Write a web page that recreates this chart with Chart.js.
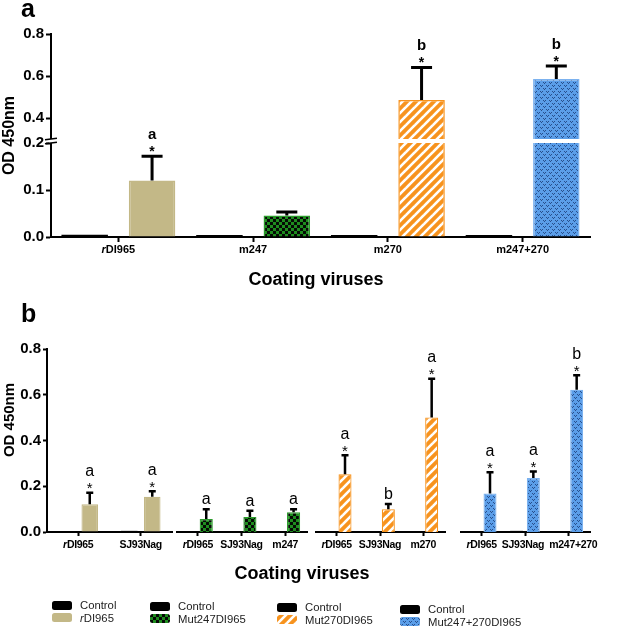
<!DOCTYPE html>
<html><head><meta charset="utf-8">
<script src="https://cdn.jsdelivr.net/npm/chart.js@4.4.1/dist/chart.umd.min.js"></script>
<style>
body{margin:0;width:619px;height:634px;position:relative;background:#fff;overflow:hidden;font-family:'Liberation Sans',Arial,sans-serif;color:#000}
.box{position:absolute}
.t{position:absolute;white-space:nowrap;line-height:1;font-weight:bold}
.leg{position:absolute;display:flex;align-items:center;height:14px;font-size:11.3px;color:#222;white-space:nowrap}
.leg canvas{margin-right:8px}
.rot{position:absolute;width:120px;height:16px;line-height:16px;text-align:center;font-weight:bold;font-size:15px;white-space:nowrap;transform:rotate(-90deg);transform-origin:50% 50%}
</style></head><body>
<div class="box" style="left:0;top:0;width:619px;height:300px"><canvas id="ca"></canvas></div>
<div class="box" style="left:0;top:300px;width:180px;height:300px"><canvas id="cb1"></canvas></div>
<div class="box" style="left:176px;top:300px;width:145px;height:300px"><canvas id="cb2"></canvas></div>
<div class="box" style="left:315px;top:300px;width:145px;height:300px"><canvas id="cb3"></canvas></div>
<div class="box" style="left:460px;top:300px;width:159px;height:300px"><canvas id="cb4"></canvas></div>
<div class="t" style="left:21px;top:-4px;font-size:25px">a</div>
<div class="t" style="left:21px;top:301px;font-size:25px">b</div>
<div class="t" style="left:216px;top:270px;width:200px;text-align:center;font-size:18px">Coating viruses</div>
<div class="t" style="left:202px;top:564px;width:200px;text-align:center;font-size:18px">Coating viruses</div>
<div class="rot" style="left:-51.5px;top:412px">OD 450nm</div>
<div id="legend"></div>
<script>
// ---------- data ----------
const seriesNames = ['Control', 'rDI965', 'Mut247DI965', 'Mut270DI965', 'Mut247+270DI965'];

const catsA = ['rDI965', 'm247', 'm270', 'm247+270'];
const controlA = [0.005, 0.004, 0.004, 0.004];
const valuesA = [0.120, 0.046, 0.486, 0.586];
const errorsA = [0.052, 0.007, 0.155, 0.062];
const lettersA = ['a', '', 'b', 'b'];
const starsA = ['*', '', '*', '*'];
const yTicksA = [0, 0.1, 0.2, 0.4, 0.6, 0.8];

const catsB1 = ['rDI965', 'SJ93Nag'];
const controlB1 = [0, 0.005];
const valuesB1 = [0.121, 0.154];
const errorsB1 = [0.051, 0.024];
const lettersB1 = ['a', 'a'];
const starsB1 = ['*', '*'];

const catsB2 = ['rDI965', 'SJ93Nag', 'm247'];
const controlB2 = [0, 0.004, 0];
const valuesB2 = [0.057, 0.066, 0.086];
const errorsB2 = [0.043, 0.027, 0.013];
const lettersB2 = ['a', 'a', 'a'];
const starsB2 = ['', '', ''];

const catsB3 = ['rDI965', 'SJ93Nag', 'm270'];
const controlB3 = [0, 0.004, 0];
const valuesB3 = [0.252, 0.099, 0.501];
const errorsB3 = [0.083, 0.023, 0.169];
const lettersB3 = ['a', 'b', 'a'];
const starsB3 = ['*', '', '*'];

const catsB4 = ['rDI965', 'SJ93Nag', 'm247+270'];
const controlB4 = [0, 0.005, 0];
const valuesB4 = [0.168, 0.236, 0.622];
const errorsB4 = [0.093, 0.029, 0.063];
const lettersB4 = ['a', 'a', 'b'];
const starsB4 = ['*', '*', '*'];

const yTicksB = [0, 0.2, 0.4, 0.6, 0.8];

// ---------- styles ----------
const FAM = "'Liberation Sans', Arial, sans-serif";
function tile(w, h, draw) { const c = document.createElement('canvas'); c.width = w; c.height = h; draw(c.getContext('2d'), w, h); return c; }
const pctx = document.createElement('canvas').getContext('2d');
const TAN = '#c3b887';
const greenTile = tile(6, 6, (g) => { g.fillStyle = '#1e8c1e'; g.fillRect(0, 0, 6, 6); g.fillStyle = '#050a05'; g.fillRect(0, 0, 3, 3); g.fillRect(3, 3, 3, 3); });
const orangeTile = tile(9, 9, (g) => { g.fillStyle = '#f7931e'; g.fillRect(0, 0, 9, 9); g.strokeStyle = '#fff'; g.lineWidth = 2.6;
  [[-1, 10, 10, -1], [-1, 1, 1, -1], [8, 10, 10, 8]].forEach(l => { g.beginPath(); g.moveTo(l[0], l[1]); g.lineTo(l[2], l[3]); g.stroke(); }); });
const blueTile = tile(6, 6, (g) => { g.fillStyle = '#5b9ee9'; g.fillRect(0, 0, 6, 6); g.fillStyle = '#274f8c';
  g.fillRect(0, 1, 1, 1); g.fillRect(1, 2, 1, 1); g.fillRect(2, 1, 1, 1); g.fillRect(3, 4, 1, 1); g.fillRect(4, 5, 1, 1); g.fillRect(5, 4, 1, 1); });
const GREEN = pctx.createPattern(greenTile, 'repeat');
const ORANGE = pctx.createPattern(orangeTile, 'repeat');
const BLUE = pctx.createPattern(blueTile, 'repeat');
const fills = [TAN, GREEN, ORANGE, BLUE];
const borders = [TAN, '#2b9b2b', '#f7931e', '#7cb2ef'];

// ---------- broken axis scale ----------
const BRK = { low: 0.2, high: 0.3, lowFrac: 94 / 203, gapFrac: 4 / 203 };
class BrokenScale extends Chart.LinearScale {
  buildTicks() { return yTicksA.map(v => ({ value: v })); }
  getPixelForValue(v) {
    const H = this.bottom - this.top, lowH = H * BRK.lowFrac, gapH = H * BRK.gapFrac, upH = H - lowH - gapH;
    const min = this.min, max = this.max;
    if (v <= BRK.low) return this.bottom - (v - min) / (BRK.low - min) * lowH;
    if (v >= BRK.high) return this.bottom - lowH - gapH - (v - BRK.high) / (max - BRK.high) * upH;
    return this.bottom - lowH - (v - BRK.low) / (BRK.high - BRK.low) * gapH;
  }
  getValueForPixel(p) {
    const H = this.bottom - this.top, lowH = H * BRK.lowFrac, gapH = H * BRK.gapFrac, upH = H - lowH - gapH;
    const d = this.bottom - p;
    if (d <= lowH) return this.min + d / lowH * (BRK.low - this.min);
    if (d >= lowH + gapH) return BRK.high + (d - lowH - gapH) / upH * (this.max - BRK.high);
    return BRK.low + (d - lowH) / gapH * (BRK.high - BRK.low);
  }
}
BrokenScale.id = 'broken';
BrokenScale.defaults = {};
Chart.register(BrokenScale);

// ---------- plugins ----------
const errAnno = {
  id: 'errAnno',
  afterDatasetsDraw(chart, args, o) {
    if (!o || !o.errors) return;
    const meta = chart.getDatasetMeta(o.dataset), ys = chart.scales.y, ctx = chart.ctx;
    const data = chart.data.datasets[o.dataset].data;
    ctx.save();
    ctx.strokeStyle = '#000'; ctx.fillStyle = '#000'; ctx.lineWidth = o.lw;
    meta.data.forEach((bar, i) => {
      const v = data[i], e = o.errors[i], x = bar.x;
      const y0 = ys.getPixelForValue(v), y1 = ys.getPixelForValue(v + e);
      ctx.beginPath(); ctx.moveTo(x, y0); ctx.lineTo(x, y1 - o.lw / 2);
      ctx.moveTo(x - o.cap, y1); ctx.lineTo(x + o.cap, y1); ctx.stroke();
      ctx.textAlign = 'center'; ctx.textBaseline = 'alphabetic';
      const star = o.stars[i], letter = o.letters[i];
      if (star) { ctx.font = o.starFont; ctx.fillText(star, x, y1 + o.starDy); }
      if (letter) { ctx.font = o.letterFont; ctx.fillText(letter, x, y1 + (star ? o.letterDy : o.letterDyNoStar)); }
    });
    ctx.restore();
  }
};
const axisBreak = {
  id: 'axisBreak',
  afterDatasetsDraw(chart, args, o) {
    if (!o || !o.enabled) return;
    const ys = chart.scales.y, ca = chart.chartArea, ctx = chart.ctx;
    const yHi = ys.getPixelForValue(BRK.high), yLo = ys.getPixelForValue(BRK.low);
    ctx.save();
    ctx.fillStyle = '#fff';
    ctx.fillRect(ca.left - 2, yHi, ca.right - ca.left + 2, yLo - yHi);
    ctx.strokeStyle = '#000'; ctx.lineWidth = 1.6;
    [yHi, yLo].forEach(y => { ctx.beginPath(); ctx.moveTo(ca.left - 6, y + 0.8); ctx.lineTo(ca.left + 6, y - 0.8); ctx.stroke(); });
    ctx.restore();
  }
};
const xLabels = {
  id: 'xLabels',
  afterDraw(chart, args, o) {
    if (!o || !o.font) return;
    const xs = chart.scales.x, ctx = chart.ctx, y = chart.chartArea.bottom + o.dy;
    ctx.save(); ctx.fillStyle = '#000'; ctx.textBaseline = 'middle'; ctx.textAlign = 'left';
    if (o.spacing) ctx.letterSpacing = o.spacing;
    chart.data.labels.forEach((lab, i) => {
      const x = xs.getPixelForValue(i) + (o.shift ? o.shift[i] : 0);
      let pre = '', rest = lab;
      if (/^r[A-Z]/.test(lab)) { pre = 'r'; rest = lab.slice(1); }
      ctx.font = o.italicFont; const w1 = pre ? ctx.measureText(pre).width : 0;
      ctx.font = o.font; const w2 = ctx.measureText(rest).width;
      const sx = x - (w1 + w2) / 2;
      if (pre) { ctx.font = o.italicFont; ctx.fillText(pre, sx, y); }
      ctx.font = o.font; ctx.fillText(rest, sx + w1, y);
    });
    ctx.restore();
  }
};
Chart.register(axisBreak, errAnno, xLabels);

const baseOpts = { animation: false, responsive: true, maintainAspectRatio: false, devicePixelRatio: 1 };

// ---------- panel a ----------
new Chart(document.getElementById('ca'), {
  type: 'bar',
  data: {
    labels: catsA,
    datasets: [
      { label: seriesNames[0], data: controlA, backgroundColor: '#000', borderWidth: 0, categoryPercentage: 1, barPercentage: 0.69 },
      { label: 'Coating virus', data: valuesA, backgroundColor: fills, borderColor: borders, borderWidth: 1.5, categoryPercentage: 1, barPercentage: 0.69 }
    ]
  },
  options: Object.assign({}, baseOpts, {
    layout: { padding: { top: 34, right: 29, left: 0, bottom: 0 } },
    plugins: {
      legend: { display: false }, tooltip: { enabled: false },
      axisBreak: { enabled: true },
      errAnno: { dataset: 1, errors: errorsA, letters: lettersA, stars: starsA, lw: 3, cap: 10.5,
        starFont: 'bold 14px ' + FAM, letterFont: 'bold 15px ' + FAM, starDy: 0, letterDy: -17, letterDyNoStar: -6 },
      xLabels: { font: 'bold 11px ' + FAM, italicFont: 'italic bold 11px ' + FAM, dy: 13 }
    },
    scales: {
      x: { type: 'category', offset: true,
        grid: { display: true, drawOnChartArea: false, offset: false, tickLength: 5, tickWidth: 2, color: '#000' },
        border: { display: true, color: '#000', width: 2 },
        ticks: { display: false }, afterFit: s => { s.height = 63; } },
      y: { type: 'broken', min: 0, max: 0.8,
        afterFit: s => { s.width = 51; },
        grid: { display: true, drawOnChartArea: false, tickLength: 5, tickWidth: 2, color: '#000' },
        border: { display: true, color: '#000', width: 2 },
        ticks: { color: '#000', autoSkip: false, padding: 2, font: { family: FAM, size: 15, weight: 'bold' }, callback: v => Number(v).toFixed(1) },
        title: { display: true, text: 'OD 450nm', color: '#000', font: { family: FAM, size: 16, weight: 'bold' }, padding: { top: 0, bottom: 0 } } }
    }
  })
});

// ---------- panel b ----------
function makeB(id, cats, ctrl, vals, errs, letters, stars, fill, border, showY, padRight, catPct, barPct, shift) {
  return new Chart(document.getElementById(id), {
    type: 'bar',
    data: {
      labels: cats,
      datasets: [
        { label: seriesNames[0], data: ctrl, backgroundColor: '#000', borderWidth: 0, categoryPercentage: catPct, barPercentage: barPct },
        { label: 'Coating virus', data: vals, backgroundColor: fill, borderColor: border, borderWidth: 1.2, categoryPercentage: catPct, barPercentage: barPct }
      ]
    },
    options: Object.assign({}, baseOpts, {
      layout: { padding: { top: 49, right: padRight, left: 0, bottom: 0 } },
      plugins: {
        legend: { display: false }, tooltip: { enabled: false },
        errAnno: { dataset: 1, errors: errs, letters: letters, stars: stars, lw: 2.5, cap: 3.5,
          starFont: '15px ' + FAM, letterFont: '16px ' + FAM, starDy: 0.5, letterDy: -16.5, letterDyNoStar: -5 },
        xLabels: { font: 'bold 10.5px ' + FAM, italicFont: 'italic bold 10.5px ' + FAM, dy: 13, spacing: '-0.3px', shift: shift }
      },
      scales: {
        x: { type: 'category', offset: true,
          grid: { display: true, drawOnChartArea: false, offset: false, tickLength: 4, tickWidth: 2, color: '#000' },
          border: { display: true, color: '#000', width: 2 },
          ticks: { display: false }, afterFit: s => { s.height = 68; } },
        y: { type: 'linear', display: showY, min: 0, max: 0.8,
          afterBuildTicks: s => { s.ticks = yTicksB.map(v => ({ value: v })); },
          afterFit: s => { s.width = showY ? 47 : 0; },
          grid: { display: true, drawOnChartArea: false, tickLength: 4, tickWidth: 2, color: '#000' },
          border: { display: true, color: '#000', width: 2 },
          ticks: { color: '#000', autoSkip: false, padding: 2, font: { family: FAM, size: 15, weight: 'bold' }, callback: v => Number(v).toFixed(1) },
          title: { display: false } }
      }
    })
  });
}
makeB('cb1', catsB1, controlB1, valuesB1, errorsB1, lettersB1, starsB1, TAN, TAN, true, 8, 0.736, 0.72, [0, 0]);
makeB('cb2', catsB2, controlB2, valuesB2, errorsB2, lettersB2, starsB2, GREEN, borders[1], false, 14, 0.77, 0.78, [0, 0, 0]);
makeB('cb3', catsB3, controlB3, valuesB3, errorsB3, lettersB3, starsB3, ORANGE, borders[2], false, 15, 0.77, 0.78, [0, 0, 0]);
makeB('cb4', catsB4, controlB4, valuesB4, errorsB4, lettersB4, starsB4, BLUE, borders[3], false, 29, 0.77, 0.78, [0, -2, 5]);

// ---------- legend ----------
const legCols = [
  { x: 52, y: 605, fill: TAN, name: seriesNames[1] },
  { x: 150, y: 606, fill: GREEN, name: seriesNames[2] },
  { x: 277, y: 607, fill: ORANGE, name: seriesNames[3] },
  { x: 400, y: 609, fill: BLUE, name: seriesNames[4] }
];
const legEl = document.getElementById('legend');
function swatch(fill) {
  const c = document.createElement('canvas'); c.width = 20; c.height = 9;
  const g = c.getContext('2d'); g.fillStyle = fill;
  g.beginPath(); g.roundRect(0, 0, 20, 9, 2.5); g.fill();
  return c;
}
function legItem(x, y, fill, name) {
  const d = document.createElement('div'); d.className = 'leg';
  d.style.left = x + 'px'; d.style.top = (y - 7) + 'px';
  d.appendChild(swatch(fill));
  const s = document.createElement('span');
  if (/^r[A-Z]/.test(name)) { const i = document.createElement('i'); i.textContent = 'r'; s.appendChild(i); s.appendChild(document.createTextNode(name.slice(1))); }
  else s.textContent = name;
  d.appendChild(s); legEl.appendChild(d);
}
legCols.forEach(c => { legItem(c.x, c.y, '#000', seriesNames[0]); legItem(c.x, c.y + 12.5, c.fill, c.name); });
</script>
</body></html>
